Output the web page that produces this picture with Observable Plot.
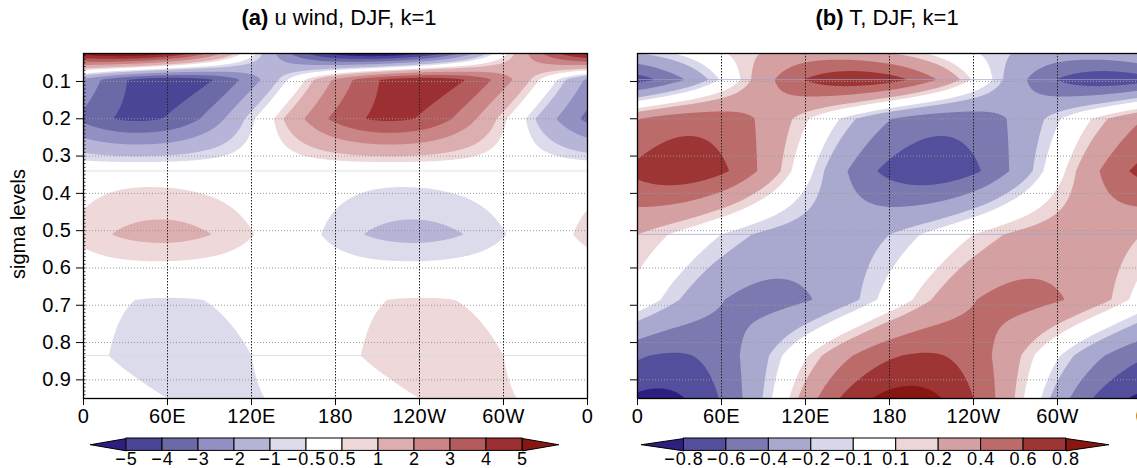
<!DOCTYPE html>
<html>
<head>
<meta charset="utf-8">
<script src="https://cdn.jsdelivr.net/npm/d3@7"></script>
<script src="https://cdn.jsdelivr.net/npm/@observablehq/plot@0.6"></script>
<style>
  html, body { margin: 0; padding: 0; background: #fff; overflow: hidden; }
  #wrap { position: relative; width: 1137px; height: 468px; overflow: hidden;
          font-family: "Liberation Sans", Arial, Helvetica, sans-serif; color: #000; }
  .title { position: absolute; top: 7px; font-size: 22px; line-height: 22px; white-space: nowrap;
           transform: translateX(-50%); }
  .ylab { position: absolute; left: 18px; top: 224px; font-size: 20px; white-space: nowrap;
          transform: translate(-50%, -50%) rotate(-90deg); }
</style>
</head>
<body>
<div id="wrap">
  <div class="title" style="left:339px"><b>(a)</b> u wind, DJF, k=1</div>
  <div class="title" style="left:887px"><b>(b)</b> T, DJF, k=1</div>
  <div class="ylab">sigma levels</div>
</div>
<script>
// ---------------- data ----------------
// model sigma levels (rows) and longitudes of the columns (degrees east)
const sigmaLevels = [0.025, 0.095, 0.2, 0.34, 0.51, 0.685, 0.835, 0.95];
const gridLon = [0, 30, 60, 90, 120, 150, 180, 210, 240, 270, 300, 330];

// (a) u wind, k=1 component (m/s), one row per sigma level
const uWind = [
  [ 5.30,  5.99,  5.09,  2.82, -0.21, -3.18, -5.30, -5.99, -5.09, -2.82,  0.21,  3.18], // 0.025
  [-2.18, -3.94, -4.65, -4.11, -2.46, -0.16,  2.18,  3.94,  4.65,  4.11,  2.46,  0.16], // 0.095
  [-3.26, -4.15, -3.92, -2.64, -0.66,  1.50,  3.26,  4.15,  3.92,  2.64,  0.66, -1.50], // 0.2
  [ 0.20,  0.26,  0.24,  0.16,  0.04, -0.09, -0.20, -0.26, -0.24, -0.16, -0.04,  0.09], // 0.34
  [ 0.69,  1.11,  1.23,  1.02,  0.54, -0.09, -0.69, -1.11, -1.23, -1.02, -0.54,  0.09], // 0.51
  [-0.27, -0.47, -0.55, -0.48, -0.28, -0.01,  0.27,  0.47,  0.55,  0.48,  0.28,  0.01], // 0.685
  [-0.28, -0.62, -0.79, -0.74, -0.50, -0.12,  0.28,  0.62,  0.79,  0.74,  0.50,  0.12], // 0.835
  [ 0.05, -0.26, -0.50, -0.61, -0.55, -0.35, -0.05,  0.26,  0.50,  0.61,  0.55,  0.35]  // 0.95
];

// (b) temperature, k=1 component (K), one row per sigma level
const temp = [
  [-0.21, -0.08,  0.08,  0.21,  0.29,  0.29,  0.21,  0.08, -0.08, -0.21, -0.29, -0.29], // 0.025
  [-0.69, -0.44, -0.08,  0.31,  0.61,  0.75,  0.69,  0.44,  0.08, -0.31, -0.61, -0.75], // 0.095
  [ 0.39,  0.52,  0.51,  0.36,  0.12, -0.15, -0.39, -0.52, -0.51, -0.36, -0.12,  0.15], // 0.2
  [ 0.66,  0.75,  0.64,  0.35, -0.03, -0.40, -0.66, -0.75, -0.64, -0.35,  0.03,  0.40], // 0.34
  [ 0.20,  0.06, -0.10, -0.23, -0.29, -0.28, -0.20, -0.06,  0.10,  0.23,  0.29,  0.28], // 0.51
  [ 0.03, -0.20, -0.39, -0.47, -0.42, -0.26, -0.03,  0.20,  0.39,  0.47,  0.42,  0.26], // 0.685
  [-0.57, -0.62, -0.50, -0.24,  0.08,  0.37,  0.57,  0.62,  0.50,  0.24, -0.08, -0.37], // 0.835
  [-0.84, -0.82, -0.58, -0.19,  0.28,  0.66,  0.86,  0.84,  0.60,  0.19, -0.28, -0.65]  // 0.95
];

const lonTicks = [0, 60, 120, 180, 240, 300, 360];
const lonLabels = ["0", "60E", "120E", "180", "120W", "60W", "0"];
const sigmaTicks = [0.1, 0.2, 0.3, 0.4, 0.5, 0.6, 0.7, 0.8, 0.9];
const sigmaMinor = d3.range(3, 96).map(i => i / 100);

const uThresholds = [-5, -4, -3, -2, -1, -0.5, 0.5, 1, 2, 3, 4, 5];
const uColors = ["#2c1f7f", "#4a4594", "#6c69a7", "#9290c2", "#b6b5d7", "#dcdbec", "#ffffff",
                 "#eed8da", "#dcaeb0", "#ca8586", "#b45c5d", "#9b2f31", "#861811"];
const tThresholds = [-0.8, -0.6, -0.4, -0.2, -0.1, 0.1, 0.2, 0.4, 0.6, 0.8];
const tColors = ["#2c1f7f", "#534f9c", "#7b79b0", "#a9a8cf", "#d9d8ea", "#ffffff",
                 "#edd6d7", "#d4a0a2", "#bc6b6b", "#9d3535", "#871710"];

// faint seams visible along some model levels in the original rendering
const uSeams = [0.34, 0.835];
const tSeams = [0.095, 0.51];

// ---------------- helpers ----------------
const FONT = '"Liberation Sans", Arial, Helvetica, sans-serif';
const minus = d => (d < 0 ? "\u2212" : "") + Math.abs(d);

// periodic cubic (Catmull-Rom) reading of one row along longitude
function rowAt(row, lon) {
  const n = gridLon.length, step = 360 / n;
  let u = (((lon % 360) + 360) % 360) / step;
  const i = Math.floor(u); u -= i;
  const p0 = row[(i - 1 + n) % n], p1 = row[i % n], p2 = row[(i + 1) % n], p3 = row[(i + 2) % n];
  return 0.5 * (2 * p1 + (p2 - p0) * u + (2 * p0 - 5 * p1 + 4 * p2 - p3) * u * u
               + (3 * p1 - p0 - 3 * p2 + p3) * u * u * u);
}
// linear between model levels
function fieldOf(rows) {
  const L = sigmaLevels;
  return (lon, s) => {
    s = Math.max(L[0], Math.min(L[L.length - 1], s));
    let k = Math.min(d3.bisectRight(L, s) - 1, L.length - 2);
    const t = (s - L[k]) / (L[k + 1] - L[k]);
    return (1 - t) * rowAt(rows[k], lon) + t * rowAt(rows[k + 1], lon);
  };
}

function panel({rows, thresholds, colors, seams, seamColor, seamOpacity, marginLeft, showYLabels, minor}) {
  const f = fieldOf(rows);
  const marks = [
    Plot.contour({
      x1: 0, x2: 360, y1: sigmaLevels[0], y2: sigmaLevels[sigmaLevels.length - 1],
      fill: (x, y) => f(x, y),
      thresholds: [-1000, ...thresholds],
      pixelSize: 1
    }),
    Plot.ruleY(seams, {stroke: seamColor, strokeOpacity: seamOpacity, strokeWidth: 1}),
    Plot.ruleY(sigmaTicks, {stroke: "#9a9a9a", strokeWidth: 1, strokeDasharray: "1,2"}),
    Plot.ruleX(lonTicks.slice(1, -1), {stroke: "#222", strokeWidth: 1, strokeDasharray: "1.5,1.5"}),
  ];
  if (minor) marks.push(Plot.ruleY(sigmaMinor, {x1: 0, x2: 1.8, stroke: "#000", strokeWidth: 0.8}));
  marks.push(Plot.frame({stroke: "#000", strokeWidth: 1.3}));
  return Plot.plot({
    width: marginLeft + 504 + 20,
    height: 433,
    marginLeft, marginRight: 20, marginTop: 53, marginBottom: 35,
    x: {domain: [0, 360], ticks: lonTicks, tickFormat: d => lonLabels[lonTicks.indexOf(d)],
        tickSize: 7, tickPadding: 3, label: null},
    y: {domain: [0.95, 0.025], ticks: sigmaTicks,
        tickFormat: showYLabels ? d3.format(".1f") : () => "",
        tickSize: 7, tickPadding: 5, label: null},
    color: {type: "threshold", domain: thresholds, range: colors},
    style: {fontSize: "20px", fontFamily: FONT, color: "#000", background: "transparent",
            overflow: "visible", letterSpacing: "0.5px"},
    marks
  });
}

function colorbar(thresholds, colors, W) {
  const n = thresholds.length - 1;
  const boxes = d3.range(n).map(i => ({i, v: (thresholds[i] + thresholds[i + 1]) / 2}));
  const tri = (x0, x1) => [{x: x0, y: 0.5}, {x: x1, y: 1}, {x: x1, y: 0}, {x: x0, y: 0.5}];
  return Plot.plot({
    width: W, height: 32, margin: 0,
    x: {domain: [-1, n + 1], range: [1, W - 1], axis: null},
    y: {domain: [0, 1], range: [14.4, 2], axis: null},
    color: {type: "threshold", domain: thresholds, range: colors},
    style: {fontFamily: FONT, background: "transparent", overflow: "visible", color: "#000",
            letterSpacing: "1px"},
    marks: [
      Plot.line(tri(-1, 0), {x: "x", y: "y", fill: colors[0], stroke: "#000", strokeWidth: 1}),
      Plot.line(tri(n + 1, n), {x: "x", y: "y", fill: colors[colors.length - 1], stroke: "#000", strokeWidth: 1}),
      Plot.rect(boxes, {x1: "i", x2: d => d.i + 1, y1: 0, y2: 1, fill: "v", stroke: "#000", strokeWidth: 1}),
      Plot.text(thresholds, {x: (d, i) => i, y: 0, text: minus, lineAnchor: "top", dy: 1.5, fontSize: 18})
    ]
  });
}

function place(node, left, top) {
  node.style.position = "absolute";
  node.style.left = left + "px";
  node.style.top = top + "px";
  document.getElementById("wrap").appendChild(node);
}

place(panel({rows: uWind, thresholds: uThresholds, colors: uColors, seams: uSeams,
             seamColor: "#d8d8e2", seamOpacity: 0.8, marginLeft: 83, showYLabels: true, minor: true}), 0, 0);
place(panel({rows: temp, thresholds: tThresholds, colors: tColors, seams: tSeams,
             seamColor: "#a3a1d2", seamOpacity: 0.7, marginLeft: 37, showYLabels: false, minor: false}), 600, 0);
place(colorbar(uThresholds, uColors, 470), 89, 436);
place(colorbar(tThresholds, tColors, 469), 640, 436);
</script>
</body>
</html>
